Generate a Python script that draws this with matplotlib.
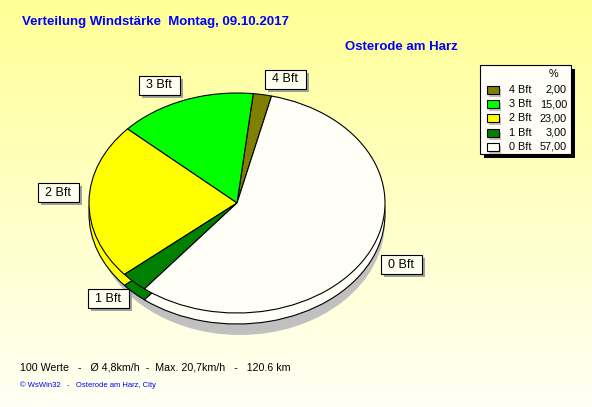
import numpy as np
import matplotlib
matplotlib.use('Agg')
import matplotlib.pyplot as plt
from matplotlib.patches import Rectangle, Ellipse

plt.rcParams['font.family'] = ['Liberation Sans', 'DejaVu Sans']

# data
labels = ['4 Bft', '3 Bft', '2 Bft', '1 Bft', '0 Bft']
percent = [2.00, 15.00, 23.00, 3.00, 57.00]
colors = ['#808000', '#00FF00', '#FFFF00', '#008000', '#FFFFF8']
title = 'Verteilung Windstärke  Montag, 09.10.2017'
station = 'Osterode am Harz'
footer = '100 Werte   -   Ø 4,8km/h  -  Max. 20,7km/h   -   120.6 km'
credit = '© WsWin32   -   Osterode am Harz, City'

W, H = 592, 407
fig = plt.figure(figsize=(W / 100, H / 100), dpi=100)

# background gradient
bg = fig.add_axes([0, 0, 1, 1], zorder=0)
grad = np.linspace(0, 1, 256).reshape(-1, 1)
top = np.array([255, 255, 150]) / 255
bot = np.array([255, 255, 245]) / 255
img = top[None, None, :] * (1 - grad[:, :, None]) + bot[None, None, :] * grad[:, :, None]
bg.imshow(img, aspect='auto', extent=[0, 1, 0, 1])
bg.axis('off')

# pie axes: unit circle -> ellipse in pixels
cx, cy, rx, ry = 237, 203, 148, 110
xl, xr, yt, yb = 1.15, 1.15, 1.15, 1.35
left_px, right_px = cx - xl * rx, cx + xr * rx
top_px, bot_px = cy - yt * ry, cy + yb * ry
pax = fig.add_axes([left_px / W, 1 - bot_px / H, (right_px - left_px) / W, (bot_px - top_px) / H], zorder=1)
pax.patch.set_alpha(0)

depth = 11 / ry
pax.add_patch(Ellipse((0.02, -0.17), 1.96, 2.06, fc='#C0C0C0', ec='none'))
wp = dict(edgecolor='black', linewidth=0.8)
pax.pie(percent, colors=colors, startangle=76.5, counterclock=True, radius=1,
        center=(0, -depth), wedgeprops=wp)
pax.pie(percent, colors=colors, startangle=76.5, counterclock=True, radius=1,
        center=(0, 0), wedgeprops=wp)
pax.set_aspect('auto')
pax.set_xlim(-xl, xr)
pax.set_ylim(-yb, yt)
pax.axis('off')

# overlay in pixel coordinates
ax = fig.add_axes([0, 0, 1, 1], zorder=2)
ax.patch.set_alpha(0)
ax.set_xlim(0, W)
ax.set_ylim(H, 0)
ax.axis('off')

ax.text(22, 22, title, color='#0000FF', fontsize=9.5, fontweight='bold', va='center', ha='left')
ax.text(458, 47, station, color='#0000FF', fontsize=9.5, fontweight='bold', va='center', ha='right')
ax.text(20, 368, footer, color='black', fontsize=7.7, va='center', ha='left')
ax.text(20, 385, credit, color='#0000FF', fontsize=5.5, va='center', ha='left')

# slice label boxes (center x, center y)
box_pos = {'4 Bft': (285, 79), '3 Bft': (159, 85), '2 Bft': (58, 192),
           '1 Bft': (108, 298), '0 Bft': (401, 264)}
bw, bh = 41, 19
for lab in labels:
    x, y = box_pos[lab]
    ax.add_patch(Rectangle((x - bw / 2 + 3, y - bh / 2 + 3), bw, bh, fc='#A0A0A0', ec='none'))
    ax.add_patch(Rectangle((x - bw / 2, y - bh / 2), bw, bh, fc='#FFFFF0', ec='black', lw=0.8))
    ax.text(x, y + 0.5, lab, fontsize=9, ha='center', va='center', color='black')

# legend
lx0, ly0, lx1, ly1 = 480, 65, 571, 154
ax.add_patch(Rectangle((lx0 + 4, ly0 + 4), lx1 - lx0, ly1 - ly0, fc='black', ec='none'))
ax.add_patch(Rectangle((lx0, ly0), lx1 - lx0, ly1 - ly0, fc='#FFFFF8', ec='black', lw=0.8))
ax.text(553, 74, '%', fontsize=7.8, ha='center', va='center')
for i, (lab, val, col) in enumerate(zip(labels, percent, colors)):
    y = 90 + i * 14.2
    ax.add_patch(Rectangle((489, y - 4 + 3), 12, 8, fc='#C0C0C0', ec='none'))
    ax.add_patch(Rectangle((487, y - 4), 12, 8, fc=col, ec='black', lw=0.8))
    ax.text(509, y, lab, fontsize=7.8, ha='left', va='center')
    ax.text(567, y, f'{val:.2f}'.replace('.', ','), fontsize=7.8, ha='right', va='center')

fig.savefig('out.png', dpi=100)
